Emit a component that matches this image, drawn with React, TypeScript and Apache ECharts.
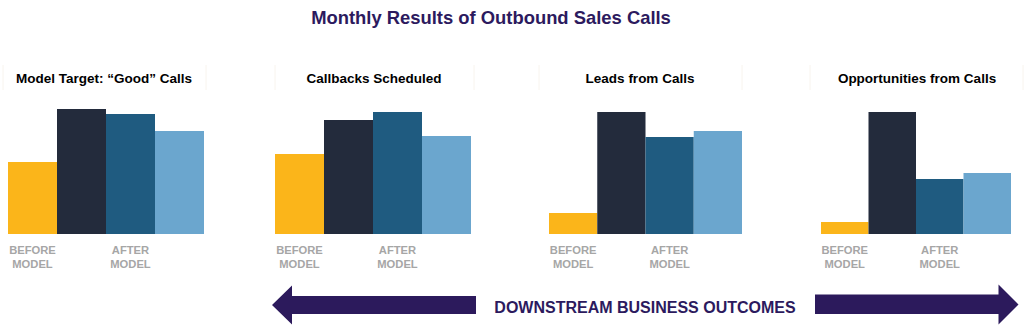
import React, { useEffect, useRef } from "react";
import * as echarts from "echarts";

const chartTitle = "Monthly Results of Outbound Sales Calls";
const panelTitles = ["Model Target: “Good” Calls", "Callbacks Scheduled", "Leads from Calls", "Opportunities from Calls"];
const periods = ["Before", "Month 1", "Month 2", "Month 3"];
const periodLabels = ["BEFORE\nMODEL", "", "AFTER\nMODEL", ""];
const goodCalls = [72, 125, 120, 103];
const callbacks = [80, 114, 122, 98];
const leads = [21, 122, 97, 103];
const opportunities = [12, 122, 55, 61];
const footerText = "DOWNSTREAM BUSINESS OUTCOMES";

const panelValues = [goodCalls, callbacks, leads, opportunities];
const barColors = ["#FBB51A", "#232B3C", "#1F5B80", "#6BA6CE"];
const FONT = "'Liberation Sans', Arial, sans-serif";
const PURPLE = "#2C1A5E";

// layout (pixels)
const grids = [
  { left: 8, width: 196, titleX: 104, sepL: 3, sepR: 206 },
  { left: 275, width: 196, titleX: 374, sepL: 275, sepR: 474 },
  { left: 549, width: 193, titleX: 640, sepL: 539, sepR: 742 },
  { left: 821, width: 190, titleX: 917, sepL: 810, sepR: 1023 },
];
const GRID_TOP = 109;
const GRID_H = 125;
const Y_MAX = 125;

export default function App() {
  const ref = useRef<HTMLDivElement>(null);
  useEffect(() => {
    if (!ref.current) return;
    const chart = echarts.init(ref.current, undefined, { renderer: "svg" });
    const graphic: any[] = [
      {
        type: "text",
        x: 491,
        y: 17,
        style: { text: chartTitle, fill: PURPLE, font: `bold 18.4px ${FONT}`, align: "center", verticalAlign: "middle" },
      },
      {
        type: "text",
        x: 645,
        y: 307,
        style: { text: footerText, fill: PURPLE, font: `bold 16px ${FONT}`, align: "center", verticalAlign: "middle" },
      },
      {
        type: "polygon",
        shape: {
          points: [
            [272, 305], [292, 285.5], [292, 296], [476, 296], [476, 314], [292, 314], [292, 324.5],
          ],
        },
        style: { fill: "#2C1A5C" },
      },
      {
        type: "polygon",
        shape: {
          points: [
            [1018.5, 304.5], [998.5, 284.5], [998.5, 294.5], [815, 294.5], [815, 314], [998.5, 314], [998.5, 324.5],
          ],
        },
        style: { fill: "#2C1A5C" },
      },
    ];
    grids.forEach((g, i) => {
      graphic.push({
        type: "text",
        x: g.titleX,
        y: 78,
        style: { text: panelTitles[i], fill: "#000", font: `bold 13.5px ${FONT}`, align: "center", verticalAlign: "middle" },
      });
      [g.sepL, g.sepR].forEach((sx) =>
        graphic.push({
          type: "line",
          shape: { x1: sx, y1: 65, x2: sx, y2: 90 },
          style: { stroke: "#F8F4EE", lineWidth: 1 },
        })
      );
    });

    const option: any = {
      animation: false,
      grid: grids.map((g) => ({ left: g.left, width: g.width, top: GRID_TOP, height: GRID_H, containLabel: false })),
      xAxis: grids.map((_, i) => ({
        type: "category",
        gridIndex: i,
        data: periods,
        axisLine: { show: false },
        axisTick: { show: false },
        axisLabel: {
          interval: 0,
          margin: 9,
          color: "#A6A6A6",
          fontFamily: FONT,
          fontWeight: "bold",
          fontSize: 11.2,
          lineHeight: 14,
          formatter: (_v: string, idx: number) => periodLabels[idx],
        },
      })),
      yAxis: grids.map((_, i) => ({
        type: "value",
        gridIndex: i,
        min: 0,
        max: Y_MAX,
        show: false,
        splitLine: { show: false },
      })),
      series: panelValues.map((vals, i) => ({
        type: "bar",
        name: panelTitles[i],
        xAxisIndex: i,
        yAxisIndex: i,
        barWidth: "100%",
        barCategoryGap: "0%",
        data: vals.map((v, j) => ({ value: v, itemStyle: { color: barColors[j] } })),
      })),
      graphic,
    };
    chart.setOption(option);
    return () => chart.dispose();
  }, []);
  return <div ref={ref} style={{ position: "fixed", left: 0, top: 0, width: 1024, height: 327, background: "#fff" }} />;
}
